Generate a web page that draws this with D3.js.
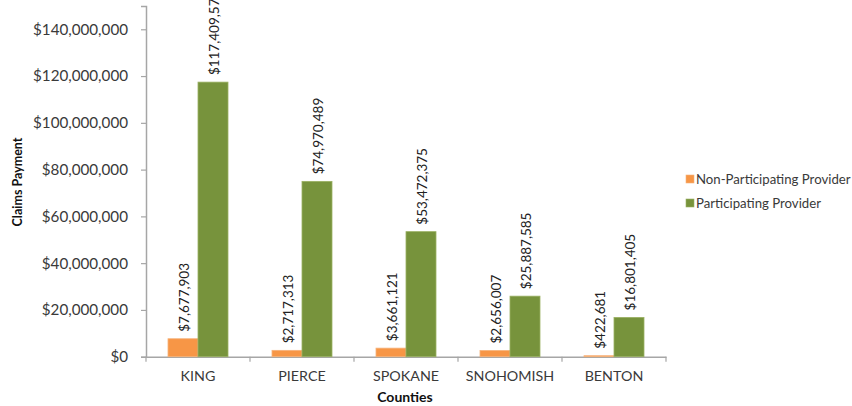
<!DOCTYPE html>
<html><head><meta charset="utf-8">
<script src="https://cdn.jsdelivr.net/npm/d3@7"></script>
<style>body{margin:0;background:#fff}svg{display:block}</style>
</head><body>
<svg id="c" width="852" height="406"></svg>
<script>
const counties = ["KING","PIERCE","SPOKANE","SNOHOMISH","BENTON"];
const seriesNames = ["Non-Participating Provider","Participating Provider"];
const nonParticipating = [7677903, 2717313, 3661121, 2656007, 422681];
const participating = [117409575, 74970489, 53472375, 25887585, 16801405];
const yTicks = [0,20000000,40000000,60000000,80000000,100000000,120000000,140000000];
const colors = ["#F79646","#77933C"];
const strokes = ["#F6B27A","#9BB163"];

const svg = d3.select("#c");
const font = "Lato, 'Open Sans', sans-serif";
const axisColor = "#A6A6A6";
const textColor = "#3a3a3a";

const y = d3.scaleLinear().domain([0,150000000]).range([356.7, 5.9]);
const x = d3.scaleBand().domain(counties).range([146, 666]).paddingInner(0).paddingOuter(0);
const x1 = d3.scaleBand().domain(seriesNames).range([22, 82]).padding(0);

const fmt = d3.format("$,.0f");

// y axis
const yAxis = svg.append("g").attr("transform","translate(146,0)")
  .call(d3.axisLeft(y).tickValues(yTicks).tickSize(5).tickPadding(13).tickFormat(d=>fmt(d)));
yAxis.select(".domain").attr("stroke",axisColor).attr("stroke-width",1.5);
yAxis.selectAll(".tick line").attr("stroke",axisColor).attr("stroke-width",1.2);
yAxis.selectAll(".tick text").attr("fill",textColor).style("font-family",font).style("font-size","15.2px");

// x axis
const xAxis = svg.append("g").attr("transform",`translate(0,${y(0)})`)
  .call(d3.axisBottom(x).tickSize(0).tickPadding(14));
xAxis.select(".domain").attr("stroke",axisColor).attr("stroke-width",1.5);
xAxis.selectAll(".tick text").attr("fill",textColor).style("font-family",font).style("font-size","14.3px");
// boundary tick marks
const bounds = counties.map(c=>x(c)).concat([x.range()[1]]);
xAxis.selectAll("line.bt").data(bounds).enter().append("line").attr("class","bt")
  .attr("x1",d=>d).attr("x2",d=>d).attr("y1",0).attr("y2",5)
  .attr("stroke",axisColor).attr("stroke-width",1.2);

// bars
const data = counties.map((c,i)=>({county:c, vals:[nonParticipating[i], participating[i]]}));
const groups = svg.append("g").selectAll("g").data(data).enter().append("g")
  .attr("transform",d=>`translate(${x(d.county)},0)`);
groups.selectAll("rect").data(d=>d.vals.map((v,j)=>({v,j}))).enter().append("rect")
  .attr("x",d=>x1(seriesNames[d.j]))
  .attr("width",x1.bandwidth())
  .attr("y",d=>y(d.v))
  .attr("height",d=>y(0)-y(d.v))
  .attr("fill",d=>colors[d.j])
  .attr("stroke",d=>strokes[d.j]).attr("stroke-width",0.8);
// value labels
groups.selectAll("text").data(d=>d.vals.map((v,j)=>({v,j}))).enter().append("text")
  .attr("transform",d=>`translate(${x1(seriesNames[d.j])+x1.bandwidth()/2+1},${y(d.v)-7}) rotate(-90)`)
  .attr("dy","0.35em")
  .attr("text-anchor","start")
  .attr("fill","#222")
  .style("font-family",font).style("font-size","13.5px")
  .text(d=>fmt(d.v));

// axis titles
svg.append("text").attr("transform","translate(18,182) rotate(-90)")
  .attr("text-anchor","middle").attr("dy","0.35em")
  .style("font-family",font).style("font-size","12.5px").style("font-weight","bold")
  .attr("fill","#111").text("Claims Payment");
svg.append("text").attr("x",405).attr("y",402)
  .attr("text-anchor","middle")
  .style("font-family",font).style("font-size","14px").style("font-weight","bold")
  .attr("fill","#111").text("Counties");

// legend
const leg = svg.append("g").selectAll("g").data(seriesNames).enter().append("g")
  .attr("transform",(d,i)=>`translate(686,${179+i*24})`);
leg.append("rect").attr("x",0).attr("y",-4).attr("width",8).attr("height",8)
  .attr("fill",(d,i)=>colors[i]).attr("stroke",(d,i)=>strokes[i]).attr("stroke-width",0.6);
leg.append("text").attr("x",10).attr("dy","0.35em")
  .attr("fill",textColor).style("font-family",font).style("font-size","13.2px")
  .text(d=>d);
</script>
</body></html>
